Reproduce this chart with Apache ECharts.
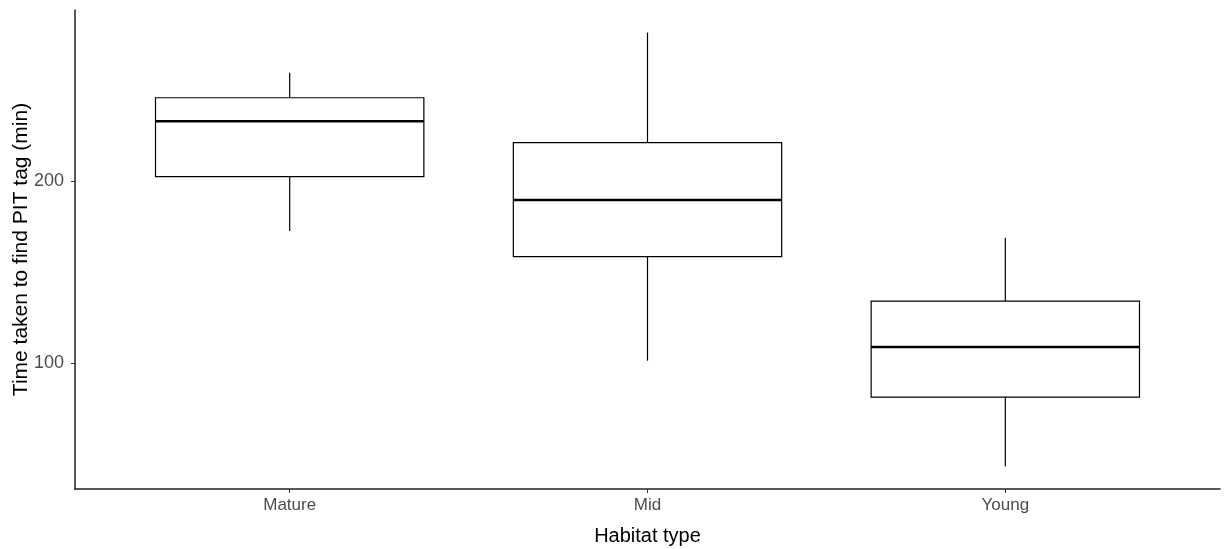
<!DOCTYPE html>
<html>
<head>
<meta charset="utf-8">
<script src="https://cdn.jsdelivr.net/npm/echarts@6/dist/echarts.min.js"></script>
<style>html,body{margin:0;padding:0;background:#fff}#c{width:1225px;height:549px}</style>
</head>
<body>
<div id="c"></div>
<script>
const categories = ['Mature', 'Mid', 'Young'];
const lowerWhisker = [172.6, 101.5, 43.5];
const q1 = [202.4, 158.5, 81.6];
const median = [232.7, 189.6, 109.0];
const q3 = [245.6, 221.0, 134.2];
const upperWhisker = [259.3, 281.3, 168.9];
const yTicks = [100, 200];

const boxData = categories.map((c, i) => [i + 1, lowerWhisker[i], q1[i], median[i], q3[i], upperWhisker[i]]);

const chart = echarts.init(document.getElementById('c'), null, {renderer: 'canvas'});
const font = 'Liberation Sans, Arial, sans-serif';
chart.setOption({
  animation: false,
  backgroundColor: '#fff',
  grid: {left: 75, right: 5, top: 10, bottom: 60, containLabel: false, outerBoundsMode: 'none'},
  xAxis: {
    type: 'value', min: 0.4, max: 3.6,
    name: 'Habitat type', nameLocation: 'middle', nameGap: 37, nameMoveOverlap: false,
    nameTextStyle: {fontFamily: font, fontSize: 20, color: '#000'},
    axisLine: {show: true, onZero: false, lineStyle: {color: '#222', width: 1.5}},
    axisTick: {show: true, length: 4, customValues: [1, 2, 3], lineStyle: {color: '#333'}},
    axisLabel: {customValues: [1, 2, 3], formatter: v => categories[Math.round(v) - 1] || '',
      fontFamily: font, fontSize: 17, color: '#4d4d4d', margin: 8},
    splitLine: {show: false}
  },
  yAxis: {
    type: 'value', min: 31.2, max: 293.7,
    name: 'Time taken to find PIT tag (min)', nameLocation: 'middle', nameGap: 43, nameMoveOverlap: false,
    nameTextStyle: {fontFamily: font, fontSize: 21, color: '#000'},
    axisLine: {show: true, onZero: false, lineStyle: {color: '#222', width: 1.5}},
    axisTick: {show: true, length: 4, customValues: yTicks, lineStyle: {color: '#333'}},
    axisLabel: {customValues: yTicks, fontFamily: font, fontSize: 18, color: '#4d4d4d', margin: 11},
    splitLine: {show: false}
  },
  series: [{
    type: 'custom',
    data: boxData,
    encode: {x: 0, y: [1, 2, 3, 4, 5]},
    renderItem: function (params, api) {
      const x = api.value(0);
      const half = api.size([0.75, 0])[0] / 2;
      const pLow = api.coord([x, api.value(1)]);
      const pQ1 = api.coord([x, api.value(2)]);
      const pMed = api.coord([x, api.value(3)]);
      const pQ3 = api.coord([x, api.value(4)]);
      const pHigh = api.coord([x, api.value(5)]);
      const st = {stroke: '#000', lineWidth: 1.2, fill: null};
      return {
        type: 'group',
        children: [
          {type: 'line', shape: {x1: pQ3[0], y1: pQ3[1], x2: pHigh[0], y2: pHigh[1]}, style: st},
          {type: 'line', shape: {x1: pLow[0], y1: pLow[1], x2: pQ1[0], y2: pQ1[1]}, style: st},
          {type: 'rect', shape: {x: pQ3[0] - half, y: pQ3[1], width: half * 2, height: pQ1[1] - pQ3[1]},
            style: {stroke: '#000', lineWidth: 1.2, fill: '#fff'}},
          {type: 'line', shape: {x1: pMed[0] - half, y1: pMed[1], x2: pMed[0] + half, y2: pMed[1]},
            style: {stroke: '#000', lineWidth: 2.4}}
        ]
      };
    }
  }]
});
</script>
</body>
</html>
